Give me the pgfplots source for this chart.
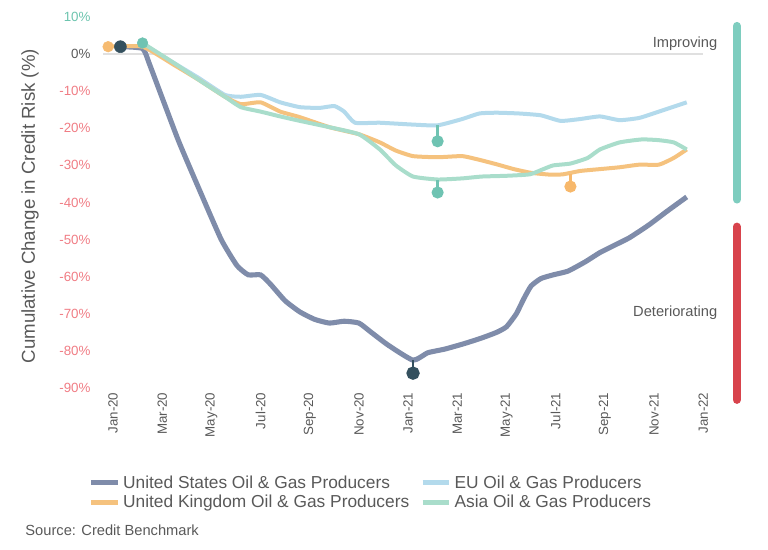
\documentclass[border=0pt]{standalone}
\usepackage{fontspec}
\setmainfont{Liberation Sans}
\usepackage{pgfplots}
\pgfplotsset{compat=1.18}
\definecolor{usc}{HTML}{7F8CAA}
\definecolor{euc}{HTML}{B3DAEC}
\definecolor{ukc}{HTML}{F5C27E}
\definecolor{asc}{HTML}{A9DDCB}
\definecolor{pinteal}{HTML}{6FC3B2}
\definecolor{darkm}{HTML}{34505E}
\definecolor{neg}{HTML}{F07C84}
\definecolor{pos}{HTML}{6CC4AE}
\definecolor{txt}{HTML}{595959}
\definecolor{barteal}{HTML}{7ECDBF}
\definecolor{barred}{HTML}{D8434C}
\begin{document}
\begin{tikzpicture}
\begin{axis}[
  scale only axis, width=450pt, height=278.25pt,
  xmin=-0.4, xmax=24, ymin=-90, ymax=10,
  axis line style={draw=none}, tick style={draw=none},
  clip=false,
  /pgf/number format/assume math mode=true,
  xtick={0,2,...,24},
  xticklabels={Jan-20,Mar-20,May-20,Jul-20,Sep-20,Nov-20,Jan-21,Mar-21,May-21,Jul-21,Sep-21,Nov-21,Jan-22},
  xticklabel style={rotate=90, anchor=east, font=\fontsize{10}{12}\selectfont, text=txt},
  ytick={-90,-80,...,10},
  yticklabels={{\textcolor{neg}{-90\%}},{\textcolor{neg}{-80\%}},{\textcolor{neg}{-70\%}},{\textcolor{neg}{-60\%}},{\textcolor{neg}{-50\%}},{\textcolor{neg}{-40\%}},{\textcolor{neg}{-30\%}},{\textcolor{neg}{-20\%}},{\textcolor{neg}{-10\%}},{\textcolor{txt}{0\%}},{\textcolor{pos}{10\%}}},
  yticklabel style={font=\fontsize{10}{12}\selectfont, xshift=-6pt},
  ylabel={Cumulative Change in Credit Risk (\%)},
  ylabel style={at={(axis description cs:-0.122,0.49)}, anchor=center, font=\fontsize{14}{16}\selectfont, text=txt},
  legend columns=2,
  legend cell align=left,
  legend image code/.code={\draw[#1, line width=4pt] (0pt,0pt) -- (20pt,0pt);},
  legend style={at={(axis description cs:-0.025,-0.228)}, anchor=north west, draw=none, fill=none, inner sep=0pt,
    font=\fontsize{13}{15}\selectfont, text=txt,
    /tikz/every even column/.append style={column sep=6pt}},
]
\addplot[forget plot, black!12, line width=1pt] coordinates {(-0.4,0) (24,0)};
% United States
\addplot[usc, line width=3.8pt, smooth, tension=0.3] coordinates {
(0.3,2) (1.2,1.5) (1.5,-3) (2.64,-23) (3.54,-37) (4.4,-50) (5.04,-57) (5.5,-59.5) (6.0,-59.5) (6.4,-62) (7.0,-66.5) (7.6,-69.5) (8.2,-71.5) (8.8,-72.5) (9.4,-72) (10.0,-72.5) (10.5,-75) (11.2,-78.5) (12.2,-82.5) (12.8,-80.5) (13.5,-79.5) (14.3,-78) (15.0,-76.5) (15.6,-75) (16.0,-73.5) (16.4,-70) (16.7,-66) (17.0,-62.5) (17.4,-60.5) (17.9,-59.5) (18.5,-58.5) (19.2,-56) (19.8,-53.5) (20.4,-51.5) (21.0,-49.5) (21.8,-46) (22.5,-42.5) (23.33,-38.5)};
\addlegendentry{United States Oil \& Gas Producers}
% EU
\addplot[euc, line width=3pt, smooth, tension=0.3] coordinates {
(1.2,2.5) (2.5,-2.5) (3.5,-6.5) (4.55,-11) (5.2,-11.5) (6.0,-11) (6.8,-13) (7.6,-14.3) (8.4,-14.5) (9.0,-14) (9.4,-15.5) (9.84,-18.5) (10.85,-18.5) (12.2,-19) (13.2,-19.2) (14.2,-17.5) (14.9,-16) (15.6,-15.8) (16.5,-16) (17.4,-16.5) (18.2,-18) (19.0,-17.5) (19.8,-16.8) (20.6,-17.8) (21.4,-17.2) (22.2,-15.5) (23.33,-13)};
\addlegendentry{EU Oil \& Gas Producers}
% UK
\addplot[ukc, line width=3pt, smooth, tension=0.3] coordinates {
(-0.2,2) (1.2,2) (2.5,-3) (3.5,-7) (4.55,-11.5) (5.2,-13.5) (6.0,-13) (6.8,-15.5) (7.6,-17) (8.8,-19.7) (10.0,-21.6) (10.85,-23.8) (11.5,-26) (12.2,-27.5) (13.2,-27.8) (14.2,-27.5) (14.9,-28.5) (15.6,-29.7) (16.3,-31) (17.0,-32) (17.8,-32.5) (18.3,-32.4) (19.0,-31.5) (19.8,-31) (20.6,-30.5) (21.4,-29.8) (22.2,-29.8) (22.8,-28) (23.33,-25.7)};
\addlegendentry{United Kingdom Oil \& Gas Producers}
% Asia
\addplot[asc, line width=3pt, smooth, tension=0.3] coordinates {
(1.2,3) (2.5,-2.5) (3.5,-7) (4.55,-11.5) (5.2,-14.3) (6.0,-15.5) (6.8,-16.8) (7.6,-18) (8.8,-19.7) (10.0,-21.6) (10.85,-25.7) (11.5,-30) (12.2,-33) (13.2,-33.8) (14.2,-33.5) (15.0,-33) (16.0,-32.8) (16.95,-32.4) (17.5,-31) (17.9,-30) (18.6,-29.5) (19.3,-28) (19.8,-25.7) (20.6,-23.8) (21.5,-23) (22.2,-23.2) (22.8,-23.8) (23.33,-25.7)};
\addlegendentry{Asia Oil \& Gas Producers}
% markers
\addplot[forget plot, only marks, mark=*, mark size=4pt, ukc!90!orange, mark options={draw=none}] coordinates {(-0.2,2)};
\addplot[forget plot, only marks, mark=*, mark size=4.5pt, darkm, mark options={draw=none}] coordinates {(0.3,2)};
\addplot[forget plot, only marks, mark=*, mark size=4pt, pinteal, mark options={draw=none}] coordinates {(1.2,3)};
\addplot[forget plot, darkm, line width=2pt, mark=*, mark size=4pt, mark indices={2}, mark options={draw=none}] coordinates {(12.2,-82.5) (12.2,-86)};
\addplot[forget plot, pinteal, line width=2pt, mark=*, mark size=3.5pt, mark indices={2}, mark options={draw=none}] coordinates {(13.2,-19.2) (13.2,-23.5)};
\addplot[forget plot, pinteal, line width=2pt, mark=*, mark size=3.5pt, mark indices={2}, mark options={draw=none}] coordinates {(13.2,-33.8) (13.2,-37.3)};
\addplot[forget plot, ukc!85!orange, line width=2pt, mark=*, mark size=3.5pt, mark indices={2}, mark options={draw=none}] coordinates {(18.6,-32.4) (18.6,-35.7)};
% side bars and labels
\draw[barteal, line width=6pt, line cap=round] (axis cs:25.37,7.6) -- (axis cs:25.37,-39.2);
\draw[barred, line width=6pt, line cap=round] (axis cs:25.37,-46.5) -- (axis cs:25.37,-93.2);
\node[anchor=east, text=txt, font=\fontsize{11}{13}\selectfont] at (axis cs:24.76,2.7) {Improving};
\node[anchor=east, text=txt, font=\fontsize{11}{13}\selectfont] at (axis cs:24.76,-69.7) {Deteriorating};
\node[anchor=west, text=txt, font=\fontsize{11}{13}\selectfont, inner sep=0pt] at (axis description cs:-0.130,-0.383) {Source: Credit Benchmark};
\end{axis}
\pgfresetboundingbox
\path[use as bounding box] (-77.4pt,-121.5pt) rectangle (498.6pt,291pt);
\end{tikzpicture}
\end{document}
